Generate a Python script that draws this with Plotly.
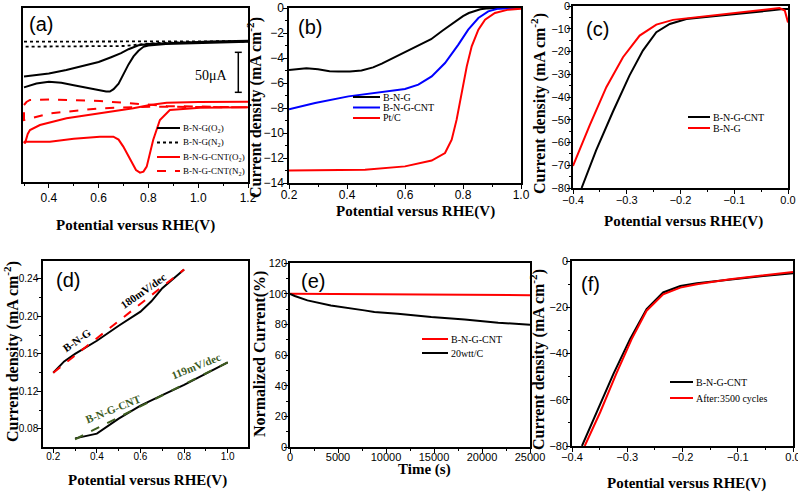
import plotly.graph_objects as go

W, H = 798, 493

# ---------------- data ----------------
# (a) CV curves (potential V vs RHE, current in µA, arbitrary offset)
a_bng_o2_up_v = [0.30, 0.40, 0.47, 0.55, 0.60, 0.65, 0.69, 0.72, 0.76, 0.80, 0.85, 0.95, 1.05, 1.20]
a_bng_o2_up_i = [-53, -49.5, -45, -39, -35, -29, -24, -19, -14, -12.5, -11.7, -10.5, -9.5, -8.3]
a_bng_o2_dn_v = [1.20, 1.05, 0.95, 0.87, 0.80, 0.78, 0.76, 0.74, 0.72, 0.70, 0.68, 0.66, 0.645, 0.63, 0.60, 0.55, 0.50, 0.45, 0.40, 0.35, 0.30]
a_bng_o2_dn_i = [-9.6, -10.5, -11.5, -12.5, -14.5, -16, -21, -28, -38, -50, -62, -69, -72, -72, -70, -67, -64, -61, -59.6, -62, -66.7]
a_bng_n2_up_v = [0.30, 0.60, 0.90, 1.20]
a_bng_n2_up_i = [-9.6, -9.6, -9.3, -9.0]
a_bng_n2_dn_v = [1.20, 0.90, 0.80, 0.70, 0.50, 0.30]
a_bng_n2_dn_i = [-9.6, -10.5, -12, -15, -15.8, -15.8]
a_cnt_o2_dn_v = [1.20, 1.007, 0.886, 0.846, 0.819, 0.80, 0.793, 0.78, 0.766, 0.75, 0.739, 0.72, 0.699, 0.68, 0.659, 0.605, 0.50, 0.404, 0.30]
a_cnt_o2_dn_i = [-91.7, -92.1, -95, -107.5, -132.5, -155, -165.8, -172, -173.3, -170, -163.75, -152, -140.8, -132, -128.3, -128.3, -131, -134.6, -134.6]
a_cnt_o2_up_v = [0.30, 0.304, 0.315, 0.324, 0.364, 0.471, 0.605, 0.739, 0.806, 0.873, 1.00, 1.20]
a_cnt_o2_up_i = [-134.6, -136.7, -125, -120, -113.75, -105.4, -99.2, -92.9, -88.75, -85.8, -85, -84.6]
a_cnt_n2_up_v = [0.30, 0.31, 0.324, 0.404, 0.605, 0.739, 0.873, 1.20]
a_cnt_n2_up_i = [-88.75, -85, -82.5, -81.7, -83.75, -86.7, -90, -91.7]
a_cnt_n2_dn_v = [1.20, 0.806, 0.605, 0.404, 0.30, 0.30]
a_cnt_n2_dn_i = [-91.7, -90.8, -92.9, -99.2, -107.5, -88.75]
scale_bar_v = 1.161
scale_bar_i = [-22.9, -72.9]

# (b) ORR LSV
b_bng_v = [0.20, 0.23, 0.26, 0.30, 0.34, 0.37, 0.41, 0.45, 0.49, 0.52, 0.56, 0.60, 0.65, 0.69, 0.73, 0.76, 0.78, 0.80, 0.82, 0.84, 0.86, 0.88, 0.90, 0.95, 1.00]
b_bng_j = [-4.95, -4.88, -4.82, -4.9, -5.05, -5.08, -5.07, -5.0, -4.75, -4.45, -4.0, -3.5, -3.0, -2.5, -1.8, -1.3, -0.95, -0.65, -0.4, -0.22, -0.1, -0.04, -0.01, 0, 0]
b_cnt_v = [0.20, 0.29, 0.405, 0.52, 0.60, 0.646, 0.692, 0.738, 0.784, 0.818, 0.853, 0.887, 0.922, 1.00]
b_cnt_j = [-8.1, -7.6, -7.07, -6.75, -6.48, -6.13, -5.47, -4.4, -2.93, -1.73, -0.8, -0.27, -0.05, 0]
b_pt_v = [0.20, 0.30, 0.462, 0.60, 0.692, 0.738, 0.761, 0.778, 0.795, 0.813, 0.830, 0.853, 0.876, 0.910, 0.956, 1.00]
b_pt_j = [-13.0, -12.98, -12.93, -12.67, -12.2, -11.6, -10.53, -8.93, -6.8, -4.67, -3.07, -1.73, -0.93, -0.4, -0.13, -0.05]

# (c) HER LSV
c_cnt_v = [-0.384, -0.357, -0.326, -0.295, -0.270, -0.245, -0.220, -0.189, -0.139, -0.077, -0.034, -0.009, 0.0]
c_cnt_j = [-80, -63.5, -46.6, -30.6, -19.6, -11.5, -7.9, -5.7, -4.5, -3.2, -2.0, -1.3, -1.3]
c_bng_v = [-0.40, -0.369, -0.338, -0.307, -0.276, -0.245, -0.214, -0.171, -0.109, -0.047, -0.016, -0.006, -0.002, 0.0]
c_bng_j = [-70.3, -52.5, -35.7, -22.5, -13, -8.2, -6.1, -5.0, -3.5, -1.75, -0.9, -2, -5, -7.2]

# (d) Tafel
d_bng_v = [0.2, 0.25, 0.3, 0.4, 0.5, 0.6, 0.65, 0.7, 0.8]
d_bng_j = [0.140, 0.152, 0.160, 0.174, 0.190, 0.205, 0.216, 0.230, 0.250]
d_bng_fit_v = [0.2, 0.8]
d_bng_fit_j = [0.140, 0.250]
d_cnt_v = [0.3, 0.4, 0.5, 0.6, 0.7, 0.8, 0.9, 1.0]
d_cnt_j = [0.070, 0.075, 0.091, 0.105, 0.116, 0.127, 0.139, 0.151]
d_cnt_fit_v = [0.3, 1.0]
d_cnt_fit_j = [0.069, 0.151]

# (e) chronoamperometry
e_cnt_t = [0, 10000, 25000]
e_cnt_p = [100, 99.6, 99.0]
e_pt_t = [0, 500, 1813, 4254, 7741, 8787, 11227, 14714, 18201, 21688, 25000]
e_pt_p = [99.9, 98.5, 95.6, 92.3, 89.1, 88.0, 86.9, 84.8, 83.2, 81.1, 79.8]

# (f) stability HER
f_before_v = [-0.382, -0.355, -0.325, -0.295, -0.265, -0.235, -0.204, -0.174, -0.114, -0.054, 0.0]
f_before_j = [-80, -65.4, -48.8, -33.8, -20.8, -13.6, -10.8, -9.6, -7.9, -6.5, -5.3]
f_after_v = [-0.377, -0.349, -0.320, -0.292, -0.265, -0.235, -0.204, -0.174, -0.114, -0.054, 0.0]
f_after_j = [-80, -65.4, -48.8, -33.8, -21.5, -14.4, -11.5, -10.1, -7.9, -6.2, -4.7]

# ---------------- figure ----------------
def PX(x):
    return x / W

def PY(y):
    return 1 - y / H

RED = "#ff0000"
BLUE = "#0000ff"
GREEN = "#3d5c1f"
SERIF = "Liberation Serif"
SANS = "Liberation Sans"

fig = go.Figure()

def add(n, x, y, color, dash="solid", width=2):
    s = "" if n == 1 else str(n)
    fig.add_trace(go.Scatter(x=x, y=y, mode="lines",
                             line=dict(color=color, width=width, dash=dash),
                             xaxis="x" + s, yaxis="y" + s,
                             showlegend=False, hoverinfo="skip"))

# (a)
add(1, a_bng_n2_up_v + a_bng_n2_dn_v, a_bng_n2_up_i + a_bng_n2_dn_i, "black", "dot", 1.8)
add(1, a_bng_o2_up_v + a_bng_o2_dn_v, a_bng_o2_up_i + a_bng_o2_dn_i, "black")
add(1, a_cnt_n2_up_v + a_cnt_n2_dn_v, a_cnt_n2_up_i + a_cnt_n2_dn_i, RED, "dash")
add(1, a_cnt_o2_dn_v + a_cnt_o2_up_v, a_cnt_o2_dn_i + a_cnt_o2_up_i, RED)
# (b)
add(2, b_bng_v, b_bng_j, "black")
add(2, b_cnt_v, b_cnt_j, BLUE)
add(2, b_pt_v, b_pt_j, RED)
# (c)
add(3, c_cnt_v, c_cnt_j, "black")
add(3, c_bng_v, c_bng_j, RED)
# (d)
add(4, d_bng_v, d_bng_j, "black")
add(4, d_bng_fit_v, d_bng_fit_j, RED, "dash")
add(4, d_cnt_v, d_cnt_j, "black")
add(4, d_cnt_fit_v, d_cnt_fit_j, GREEN, "dash")
# (e)
add(5, e_cnt_t, e_cnt_p, RED)
add(5, e_pt_t, e_pt_p, "black")
# (f)
add(6, f_before_v, f_before_j, "black")
add(6, f_after_v, f_after_j, RED)

panels = {
    1: dict(bx=(23, 248), by=(8, 182), xr=[0.296, 1.2], yr=[-185, 32.5], xd=0.2, x0=0.4, xm=0.1, xf=".1f",
            yd=None, y0=None, ym=None, yf=None, fs=12, xso=0, yso=0),
    2: dict(bx=(289, 521), by=(8, 183), xr=[0.2, 1.0], yr=[-14, 0], xd=0.2, x0=0.2, xm=0.1, xf=".1f",
            yd=2, y0=0, ym=1, yf="d", fs=12, xso=-4, yso=-3),
    3: dict(bx=(573, 788), by=(6, 188), xr=[-0.4, 0.0], yr=[-80, 0], xd=0.1, x0=0, xm=0.05, xf=".1f",
            yd=10, y0=0, ym=5, yf="d", fs=11, xso=-3, yso=-5),
    4: dict(bx=(43, 248), by=(261, 447), xr=[0.153, 1.093], yr=[0.0608, 0.259], xd=0.2, x0=0.2, xm=0.1, xf=".1f",
            yd=0.04, y0=0.08, ym=0.02, yf=".2f", fs=10, xso=-5, yso=-3),
    5: dict(bx=(290, 530), by=(263, 447), xr=[0, 25000], yr=[0, 120], xd=5000, x0=0, xm=2500, xf="d",
            yd=20, y0=0, ym=10, yf="d", fs=11, xso=-5, yso=-5),
    6: dict(bx=(572, 793), by=(261, 446), xr=[-0.4, 0.0], yr=[-80, 0], xd=0.1, x0=0, xm=0.05, xf=".1f",
            yd=20, y0=0, ym=10, yf="d", fs=11, xso=-4, yso=-4),
}

layout = dict(width=W, height=H, autosize=False, margin=dict(l=0, r=0, t=0, b=0, pad=0, autoexpand=False),
              paper_bgcolor="white", plot_bgcolor="white", showlegend=False)

for n, p in panels.items():
    s = "" if n == 1 else str(n)
    common = dict(showline=True, mirror=True, linecolor="black", linewidth=1.5, automargin=False,
                  showgrid=False, zeroline=False, ticks="outside", ticklen=4, tickwidth=1.2,
                  tickcolor="black", tickfont=dict(family=SANS, size=p["fs"], color="black"),
                  ticklabeloverflow="allow", fixedrange=True)
    xa = dict(common, domain=[PX(p["bx"][0]), PX(p["bx"][1])], anchor="y" + s, range=p["xr"],
              tickmode="linear", dtick=p["xd"], tick0=p["x0"], tickformat=p["xf"], ticklabelstandoff=p["xso"],
              minor=dict(ticks="outside", ticklen=2.5, tickwidth=1, tickcolor="black", dtick=p["xm"], tick0=p["x0"]))
    ya = dict(common, domain=[PY(p["by"][1]), PY(p["by"][0])], anchor="x" + s, range=p["yr"])
    if p["yd"] is None:
        ya.update(ticks="", showticklabels=False)
    else:
        ya.update(tickmode="linear", dtick=p["yd"], tick0=p["y0"], tickformat=p["yf"], ticklabelstandoff=p["yso"],
                  minor=dict(ticks="outside", ticklen=2.5, tickwidth=1, tickcolor="black", dtick=p["ym"], tick0=p["y0"]))
    layout["xaxis" + s] = xa
    layout["yaxis" + s] = ya

fig.update_layout(**layout)

ann = []
shapes = []

# panel letters
for txt, (x, y) in {"(a)": (27, 24), "(b)": (296, 27), "(c)": (584, 29), "(d)": (54, 280),
                    "(e)": (299, 281), "(f)": (579, 284)}.items():
    ann.append(dict(text=txt, x=PX(x), y=PY(y), xref="paper", yref="paper", xanchor="left", yanchor="middle",
                    showarrow=False, font=dict(family=SANS, size=20, color="black")))

# axis titles
XT = "<b>Potential versus RHE(V)</b>"
YT = "<b>Current density (mA cm<sup>-2</sup>)</b>"
for txt, (x, y) in [(XT, (135.5, 225)), (XT, (415, 211)), (XT, (683, 221)), (XT, (147.5, 480)),
                    ("<b>Time (s)</b>", (424.5, 469)), (XT, (686, 483))]:
    ann.append(dict(text=txt, x=PX(x), y=PY(y), xref="paper", yref="paper", xanchor="center", yanchor="middle",
                    showarrow=False, font=dict(family=SERIF, size=15, color="black")))
for txt, (x, y) in [(YT, (255, 108)), (YT, (538, 104)), (YT, (11, 352)),
                    ("<b>Normalized Current(%)</b>", (260, 354)), (YT, (537, 360))]:
    ann.append(dict(text=txt, x=PX(x), y=PY(y), xref="paper", yref="paper", xanchor="center", yanchor="middle",
                    textangle=-90, showarrow=False, font=dict(family=SERIF, size=16, color="black")))

# legends (drawn manually)
def legend(x0, x1, y, color, dash, text, size=10):
    shapes.append(dict(type="line", xref="paper", yref="paper", x0=PX(x0), x1=PX(x1), y0=PY(y), y1=PY(y),
                       line=dict(color=color, width=2, dash=dash)))
    ann.append(dict(text=text, x=PX(x1 + 1), y=PY(y), xref="paper", yref="paper", xanchor="left",
                    yanchor="middle", showarrow=False, font=dict(family=SERIF, size=size, color="black")))

legend(157, 180, 128, "black", "solid", "B-N-G(O<sub>2</sub>)", 9)
legend(157, 180, 142.5, "black", "dot", "B-N-G(N<sub>2</sub>)", 9)
legend(157, 180, 157, RED, "solid", "B-N-G-CNT(O<sub>2</sub>)", 9)
legend(157, 180, 171, RED, "dash", "B-N-G-CNT(N<sub>2</sub>)", 9)

legend(353, 380, 97, "black", "solid", "B-N-G", 10)
legend(353, 380, 107.5, BLUE, "solid", "B-N-G-CNT", 10)
legend(353, 380, 118, RED, "solid", "Pt/C", 10)

legend(688, 710, 117, "black", "solid", "B-N-G-CNT")
legend(688, 710, 128, RED, "solid", "B-N-G")

legend(422, 448, 339, RED, "solid", "B-N-G-CNT")
legend(422, 448, 353, "black", "solid", "20wtt/C")

legend(670, 693, 382, "black", "solid", "B-N-G-CNT")
legend(670, 693, 398, RED, "solid", "After:3500 cycles")

# scale bar in (a)
shapes.append(dict(type="line", xref="x", yref="y", x0=scale_bar_v, x1=scale_bar_v,
                   y0=scale_bar_i[0], y1=scale_bar_i[1], line=dict(color="black", width=1.5)))
for yi in scale_bar_i:
    shapes.append(dict(type="line", xref="x", yref="y", x0=scale_bar_v - 0.014, x1=scale_bar_v + 0.014,
                       y0=yi, y1=yi, line=dict(color="black", width=1.5)))
ann.append(dict(text="50μA", x=PX(230), y=PY(76), xref="paper", yref="paper", xanchor="right", yanchor="middle",
                showarrow=False, font=dict(family=SERIF, size=14, color="black")))

# (d) text labels
for txt, (x, y), ang, col in [("B-N-G", (77, 340), -35, "black"), ("180mV/dec", (143, 291), -35, "black"),
                              ("B-N-G-CNT", (113, 409), -22, GREEN), ("119mV/dec", (196, 366), -22, GREEN)]:
    ann.append(dict(text="<b>" + txt + "</b>", x=PX(x), y=PY(y), xref="paper", yref="paper",
                    xanchor="center", yanchor="middle", textangle=ang, showarrow=False,
                    font=dict(family=SERIF, size=11, color=col)))

fig.update_layout(annotations=ann, shapes=shapes)
fig.write_html("out.html", config={"displayModeBar": False},
               post_script="document.body.style.margin='0';document.body.style.overflow='hidden';")
